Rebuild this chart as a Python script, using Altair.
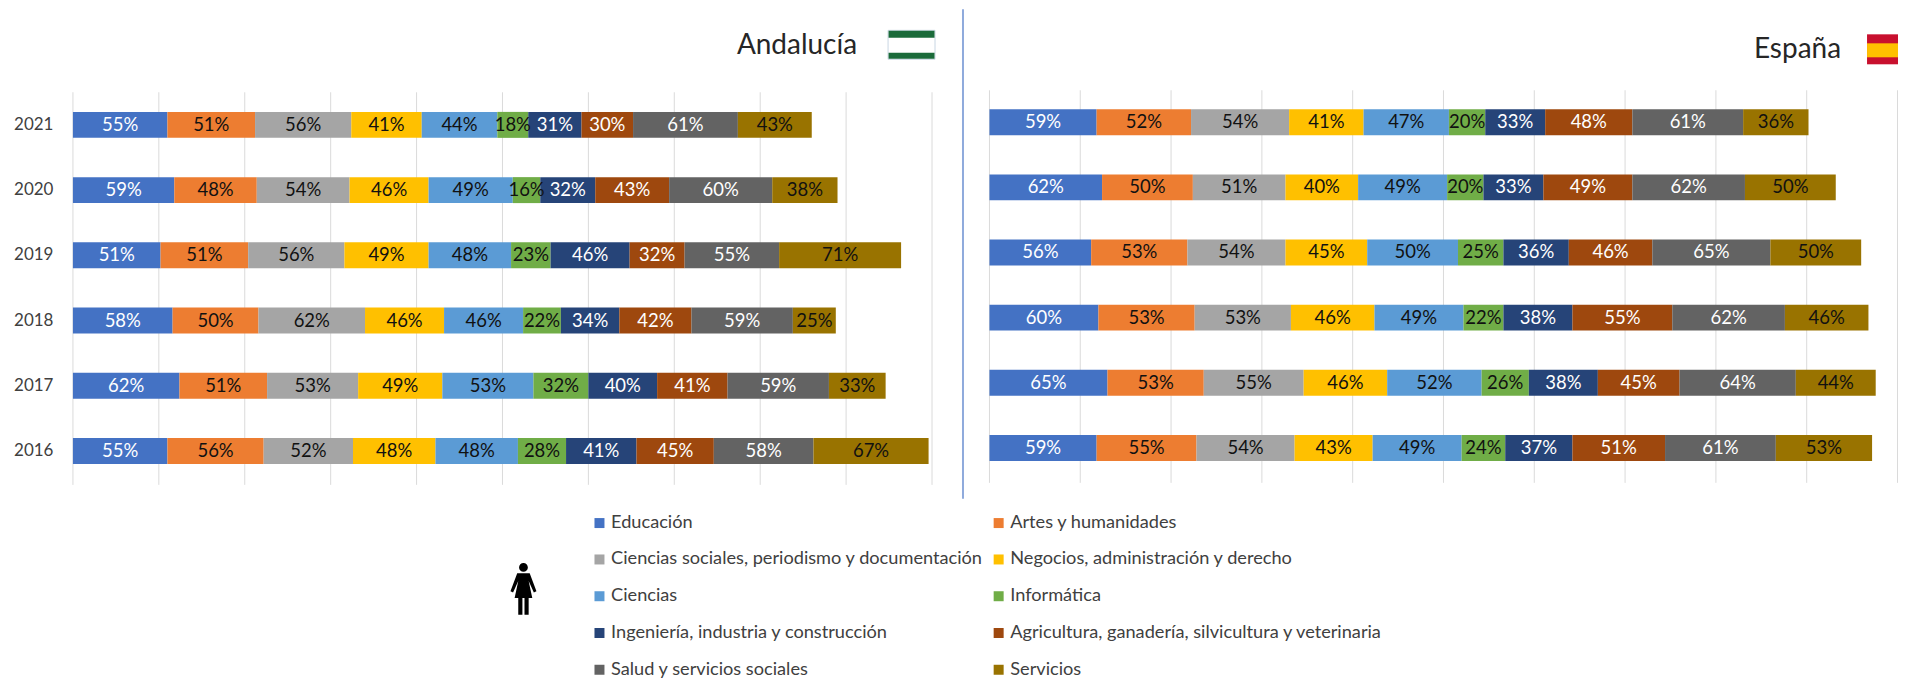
import altair as alt
import pandas as pd

YEARS = ["2021", "2020", "2019", "2018", "2017", "2016"]
CATS = ["Educación", "Artes y humanidades", "Ciencias sociales, periodismo y documentación",
        "Negocios, administración y derecho", "Ciencias", "Informática",
        "Ingeniería, industria y construcción", "Agricultura, ganadería, silvicultura y veterinaria",
        "Salud y servicios sociales", "Servicios"]
COLORS = ["#4472C4", "#ED7D31", "#A5A5A5", "#FFC000", "#5B9BD5", "#70AD47", "#264478", "#9E480E", "#636363", "#997300"]
WHITE_LABELS = [0, 6, 7, 8]

AND = [[55, 51, 56, 41, 44, 18, 31, 30, 61, 43],
       [59, 48, 54, 46, 49, 16, 32, 43, 60, 38],
       [51, 51, 56, 49, 48, 23, 46, 32, 55, 71],
       [58, 50, 62, 46, 46, 22, 34, 42, 59, 25],
       [62, 51, 53, 49, 53, 32, 40, 41, 59, 33],
       [55, 56, 52, 48, 48, 28, 41, 45, 58, 67]]
ESP = [[59, 52, 54, 41, 47, 20, 33, 48, 61, 36],
       [62, 50, 51, 40, 49, 20, 33, 49, 62, 50],
       [56, 53, 54, 45, 50, 25, 36, 46, 65, 50],
       [60, 53, 53, 46, 49, 22, 38, 55, 62, 46],
       [65, 53, 55, 46, 52, 26, 38, 45, 64, 44],
       [59, 55, 54, 43, 49, 24, 37, 51, 61, 53]]
TICKS = [0, 50, 100, 150, 200, 250, 300, 350, 400, 450, 500]

FONT = "Lato"
WOMAN = ("M-0.17,-0.82A0.17,0.17 0 1 1 0.17,-0.82A0.17,0.17 0 1 1 -0.17,-0.82Z "
         "M-0.24,-0.6L0.24,-0.6L0.5,0.1L0.4,0.14L0.2,-0.3L0.34,0.36L0.2,0.36L0.2,1L0.04,1L0.04,0.36"
         "L-0.04,0.36L-0.04,1L-0.2,1L-0.2,0.36L-0.34,0.36L-0.2,-0.3L-0.4,0.14L-0.5,0.1Z")


def table(rows):
    return pd.DataFrame([
        {"year": y, "cat": c, "ord": i, "v": rows[r][i], "lab": f"{rows[r][i]}%", "white": i in WHITE_LABELS}
        for r, y in enumerate(YEARS) for i, c in enumerate(CATS)
    ])


def deco_rect(x0, x1, y0, y1, color, **kw):
    return alt.Chart(alt.Data(values=[{"a": 1}])).mark_rect(color=color, **kw).encode(
        x=alt.value(x0), x2=alt.value(x1), y=alt.value(y0), y2=alt.value(y1))


def panel(rows, width, height, y_range, grid_top, yaxis, legend):
    xs = alt.Scale(domain=[0, 500], nice=False, zero=False)
    ys = alt.Scale(domain=YEARS, range=y_range)
    y = alt.Y("year:N", scale=ys, axis=yaxis)
    grid = alt.Chart(pd.DataFrame({"t": TICKS})).mark_rule(color="#DADADA", strokeWidth=1).encode(
        x=alt.X("t:Q", scale=xs, axis=None), y=alt.value(grid_top), y2=alt.value(height))
    base = alt.Chart(table(rows)).transform_stack(
        stack="v", groupby=["year"], sort=[alt.SortField("ord", order="ascending")], as_=["x0", "x1"]
    ).transform_calculate(mid="(datum.x0 + datum.x1) / 2")
    bars = base.mark_bar(size=26).encode(
        x=alt.X("x0:Q", scale=xs, axis=None), x2="x1:Q", y=y,
        fill=alt.Fill("cat:N", scale=alt.Scale(domain=CATS, range=COLORS), legend=legend),
    )
    def lab(flag, color):
        return base.transform_filter(f"datum.white == {flag}").mark_text(
            font=FONT, fontSize=18.5, color=color).encode(
            x=alt.X("mid:Q", scale=xs, axis=None), y=y, text="lab:N")
    return [grid, bars, lab("true", "#FFFFFF"), lab("false", "#111111")]


legend = alt.Legend(orient="none", legendX=518, legendY=423.8, direction="horizontal", columns=2,
                    title=None, symbolType="square", symbolSize=100, symbolStrokeWidth=0,
                    labelFont=FONT, labelFontSize=18.2, labelColor="#404040", labelLimit=600,
                    rowPadding=17.8, columnPadding=6.6, labelOffset=2.5, symbolOffset=0)
yaxis = alt.Axis(title=None, ticks=False, domain=False, grid=False, labelFont=FONT, labelFontSize=17,
                 labelColor="#404040", labelPadding=20)

T = alt.Data(values=[{"a": 1}])
left_extra = [
    alt.Chart(T).mark_text(font=FONT, fontSize=28, color="#262626", align="right").encode(
        x=alt.value(785), y=alt.value(-44), text=alt.value("Andalucía")),
    deco_rect(816, 863, -60, -31, "#FFFFFF", stroke="#C9D6E3", strokeWidth=1),
    deco_rect(816.5, 862.5, -59.5, -52.5, "#1B6B3A"),
    deco_rect(816.5, 862.5, -37.5, -31.5, "#1B6B3A"),
    alt.Chart(T).mark_point(shape=WOMAN, size=2704, filled=True, color="#000000", opacity=1).encode(
        x=alt.value(451), y=alt.value(499)),
]
right_extra = [
    alt.Chart(T).mark_rule(color="#8FAADC", strokeWidth=2).encode(
        x=alt.value(-26.5), y=alt.value(-81), y2=alt.value(409)),
    alt.Chart(T).mark_text(font=FONT, fontSize=28, color="#262626", align="right").encode(
        x=alt.value(852.5), y=alt.value(-40.5), text=alt.value("España")),
    deco_rect(878.5, 909.5, -56, -26, "#C8102E"),
    deco_rect(878.5, 909.5, -47, -33, "#FFC000"),
]

left = alt.layer(*panel(AND, 860, 395, [2, 393.8], 2, yaxis, legend), *left_extra).properties(width=860, height=395)
right = alt.layer(*panel(ESP, 909, 393, [-0.6, 390.6], 0, None, None), *right_extra).properties(width=909, height=393)

chart = alt.hconcat(left, right, spacing=57.5, bounds="flush",
                    padding={"left": 5, "top": 0, "right": 0, "bottom": 0}).configure_view(stroke=None)

chart.save("out.html", embed_options={"renderer": "svg", "actions": False})
